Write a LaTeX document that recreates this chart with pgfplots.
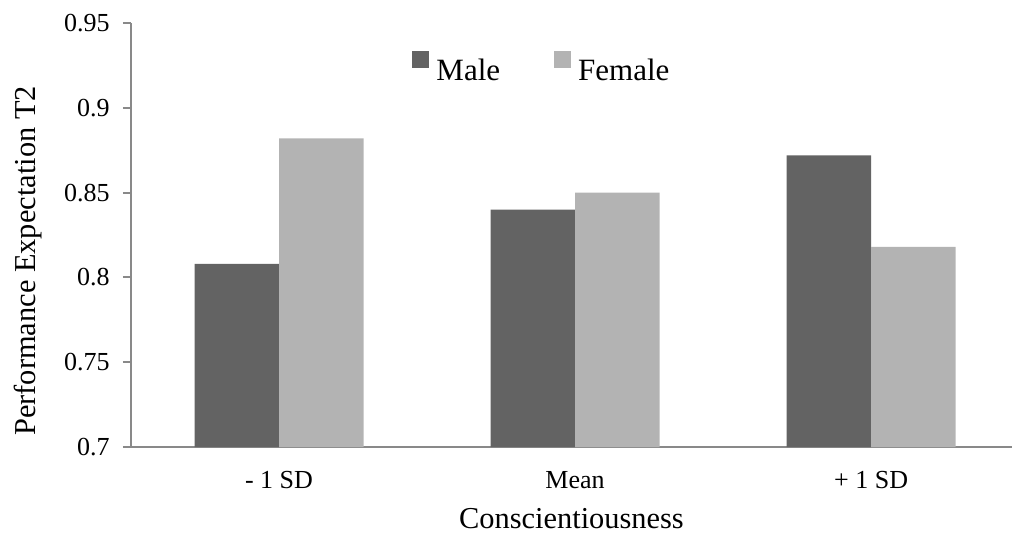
\documentclass[border=0pt]{standalone}
\usepackage{fontspec}
\setmainfont{Liberation Serif}
\usepackage{pgfplots}
\pgfplotsset{compat=1.18}
\definecolor{male}{RGB}{99,99,99}
\definecolor{female}{RGB}{179,179,179}
\definecolor{axgray}{RGB}{137,137,137}
\begin{document}
\begin{tikzpicture}
\begin{axis}[
  name=ax,
  scale only axis,
  width=440.5pt, height=212pt,
  xmin=-0.5, xmax=2.476,
  ymin=0.7, ymax=0.95,
  ybar=0pt, bar width=42.25pt,
  axis x line*=bottom, axis y line*=left,
  axis line style={draw=axgray, line width=1pt, -},
  xtick={0,1,2},
  xticklabels={- 1 SD, Mean, + 1 SD},
  ytick={0.7,0.75,0.8,0.85,0.9,0.95},
  yticklabels={0.7,0.75,0.8,0.85,0.9,0.95},
  major tick length=4pt,
  tick align=outside,
  xtick style={draw=none},
  ytick style={draw=axgray, line width=1pt},
  /pgf/number format/assume math mode=true,
  tick label style={font=\fontsize{13}{15}\selectfont, inner sep=0pt},
  xticklabel style={anchor=base, yshift=-16.5pt},
  yticklabel style={anchor=east, xshift=-6.5pt},
  ylabel={Performance Expectation T2},
  xlabel={Conscientiousness},
  label style={font=\fontsize{15.2}{18}\selectfont, inner sep=0pt},
  ylabel style={at={(axis description cs:0,0.4387)}, anchor=base, yshift=47.5pt},
  xlabel style={at={(axis description cs:0.5,0)}, anchor=base, yshift=-40.5pt},
  legend columns=2,
  legend style={at={(axis description cs:0.319,0.935)}, anchor=north west,
    draw=none, fill=none, inner sep=0pt, nodes={inner sep=0pt},
    font=\fontsize{15.5}{18}\selectfont,
    /tikz/every odd column/.append style={column sep=3.5pt},
    /tikz/every even column/.append style={column sep=27pt}},
  legend cell align=left,
  legend image code/.code={\fill[#1,draw=none] (0pt,1.7pt) rectangle (8.5pt,10pt);},
]
\addplot[fill=male, draw=none] coordinates {(0,0.808) (1,0.840) (2,0.872)};
\addplot[fill=female, draw=none] coordinates {(0,0.882) (1,0.850) (2,0.818)};
\legend{Male, Female}
\end{axis}
\pgfresetboundingbox
\path ([shift={(-65.5pt,-47pt)}]ax.south west) rectangle ([shift={(0.5pt,11.5pt)}]ax.north east);
\end{tikzpicture}
\end{document}
